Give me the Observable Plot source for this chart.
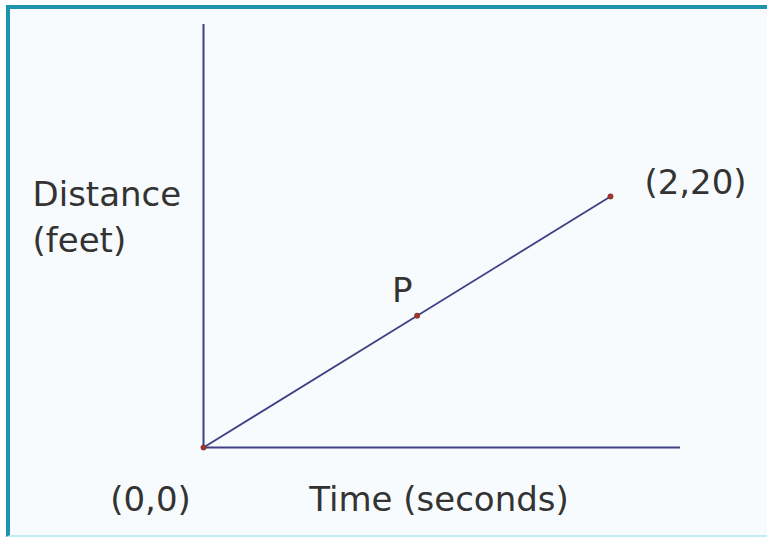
<!DOCTYPE html>
<html>
<head>
<meta charset="utf-8">
<script src="https://cdn.jsdelivr.net/npm/d3@7"></script>
<script src="https://cdn.jsdelivr.net/npm/@observablehq/plot@0.6"></script>
<style>
  html, body { margin: 0; padding: 0; background: #ffffff; }
  #wrap { position: relative; width: 767px; height: 537px; overflow: hidden; }
  #frame { position: absolute; left: 6px; top: 5px; right: -10px; bottom: 0px;
           border-top: 4px solid #1e93ad; border-left: 4px solid #1e93ad;
           border-bottom: 2px solid #c4ecf3; pointer-events: none; }
  #bg { position: absolute; left: 10px; top: 9px; right: 0; bottom: 2px; background: #f7fbfd; }
  #chart { position: absolute; left: 0; top: 0; }
</style>
</head>
<body>
<div id="wrap"><div id="bg"></div><div id="chart"></div><div id="frame"></div></div>
<script>
// Data
const times = [0, 1.05, 2];          // seconds
const distances = [0, 10.5, 20];     // feet
const pointLabels = ["(0,0)", "P", "(2,20)"];
const xAxisMax = 2.344;
const yAxisMax = 33.7;
const xTitle = "Time (seconds)";
const yTitle = "Distance\n(feet)";

const pts = times.map((t, i) => ({t, d: distances[i], label: pointLabels[i]}));
const labelOffsets = [{dx: -53, dy: 53}, {dx: -15, dy: -25}, {dx: 85, dy: -13}];

const navy = "#3f4185";
const textColor = "#333333";
const font = "DejaVu Sans, Verdana, sans-serif";
const fs = 34;

const chart = Plot.plot({
  width: 767,
  height: 537,
  marginLeft: 203,
  marginRight: 87,
  marginTop: 24,
  marginBottom: 90,
  x: {domain: [0, xAxisMax], axis: null},
  y: {domain: [0, yAxisMax], axis: null},
  style: {background: "transparent", fontFamily: font},
  marks: [
    Plot.ruleY([0], {x1: 0, x2: xAxisMax, stroke: navy, strokeWidth: 2}),
    Plot.ruleX([0], {y1: 0, y2: yAxisMax, stroke: navy, strokeWidth: 2}),
    Plot.line(pts, {x: "t", y: "d", stroke: navy, strokeWidth: 1.8}),
    Plot.dot(pts, {x: "t", y: "d", r: 2.6, fill: "#b0302a", stroke: "#6a3a30", strokeWidth: 0.8}),
    ...pts.map((p, i) => Plot.text([p], {
      x: "t", y: "d", text: "label",
      dx: labelOffsets[i].dx, dy: labelOffsets[i].dy,
      fontSize: fs, fill: textColor, fontFamily: font
    })),
    Plot.text([xTitle], {frameAnchor: "bottom", lineAnchor: "middle", dx: -3, dy: 53, fontSize: fs, fill: textColor, fontFamily: font}),
    Plot.text([yTitle], {frameAnchor: "left", lineAnchor: "middle", textAnchor: "start", dx: -171, dy: -22, lineHeight: 1.35, fontSize: fs, fill: textColor, fontFamily: font})
  ]
});
document.getElementById("chart").appendChild(chart);
</script>
</body>
</html>
